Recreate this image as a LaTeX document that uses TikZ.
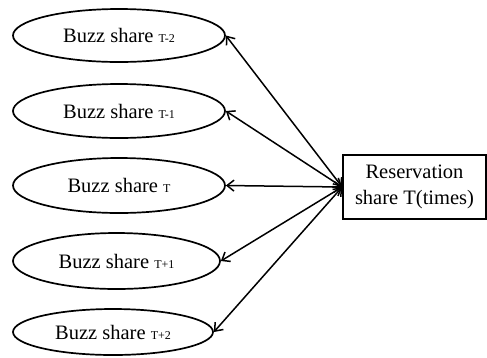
\documentclass[tikz,border=0pt]{standalone}
\usepackage{fontspec}
\setmainfont{Liberation Serif}
\usetikzlibrary{shapes.geometric,arrows.meta}
\begin{document}
\begin{tikzpicture}[x=1pt,y=-1pt,
  buzz/.style={draw,ellipse,line width=1.7pt,inner sep=0pt,font=\fontsize{20.5}{24}\selectfont},
  resbox/.style={draw,rectangle,line width=1.7pt,inner sep=0pt,minimum width=143pt,minimum height=64pt,align=center,font=\fontsize{20.5}{26}\selectfont},
  link/.style={line width=1.5pt,{Straight Barb[length=7pt,width=11pt,line width=1.5pt]}-{Straight Barb[length=7pt,width=11pt,line width=1.5pt]}}
]
\newcommand{\sm}[1]{{\fontsize{12}{12}\selectfont #1}}
\useasboundingbox (0,0) rectangle (487,357);
\node[buzz,minimum width=212pt,minimum height=53pt] (e1) at (119,35.5) {Buzz share \sm{T-2}};
\node[buzz,minimum width=212pt,minimum height=54pt] (e2) at (119,111) {Buzz share \sm{T-1}};
\node[buzz,minimum width=212pt,minimum height=55pt] (e3) at (119,185.5) {Buzz share \sm{T}};
\node[buzz,minimum width=207pt,minimum height=56pt] (e4) at (116.5,261) {Buzz share \sm{T+1}};
\node[buzz,minimum width=200pt,minimum height=46pt] (e5) at (113,332) {Buzz share \sm{T+2}};
\node[resbox] (r) at (414.5,187) {Reservation\\share T(times)};
\foreach \e in {e1,e2,e3,e4,e5}
  \draw[link] (\e.east) -- (r.west);
\end{tikzpicture}
\end{document}
